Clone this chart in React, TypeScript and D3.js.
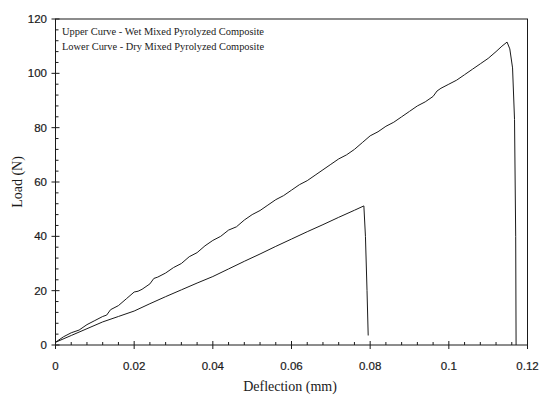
import React from "react";
import * as d3 from "d3";

const xTicks = [0, 0.02, 0.04, 0.06, 0.08, 0.1, 0.12];
const xTickLabels = ["0", "0.02", "0.04", "0.06", "0.08", "0.1", "0.12"];
const yTicks = [0, 20, 40, 60, 80, 100, 120];
const yTickLabels = ["0", "20", "40", "60", "80", "100", "120"];
const xMinor = [0.004, 0.008, 0.012, 0.016];
const yMinor = [4, 8, 12, 16];

const legendLines = [
  "Upper Curve - Wet Mixed Pyrolyzed Composite",
  "Lower Curve - Dry Mixed Pyrolyzed Composite",
];

// Upper curve - wet mixed (deflection mm, load N)
const upperDefl = [
  0, 0.002, 0.004, 0.006, 0.008, 0.01, 0.012, 0.013, 0.014, 0.016, 0.018, 0.02, 0.021, 0.022,
  0.024, 0.025, 0.026, 0.028, 0.03, 0.032, 0.034, 0.036, 0.038, 0.04, 0.042, 0.044, 0.046, 0.048,
  0.05, 0.052, 0.054, 0.056, 0.058, 0.06, 0.062, 0.064, 0.066, 0.068, 0.07, 0.072, 0.074, 0.076,
  0.078, 0.08, 0.082, 0.084, 0.086, 0.088, 0.09, 0.092, 0.094, 0.096, 0.097, 0.098, 0.1, 0.102,
  0.104, 0.106, 0.108, 0.11, 0.112, 0.1135, 0.1148, 0.1155, 0.1162, 0.1167, 0.117, 0.1171,
];
const upperLoad = [
  1, 3, 4.5, 5.5, 7.5, 9, 10.5, 11, 13, 14.5, 17, 19.5, 19.8, 20.5, 22.5, 24.5, 25, 26.5, 28.5,
  30, 32.5, 34, 36.5, 38.5, 40, 42.3, 43.5, 46, 48, 49.5, 51.5, 53.5, 55, 57, 59, 60.5, 62.5,
  64.5, 66.5, 68.5, 70, 72, 74.5, 77, 78.5, 80.5, 82, 84, 86, 88, 89.5, 91.5, 93.5, 94.5, 96,
  97.5, 99.5, 101.5, 103.5, 105.5, 108, 110, 111.5, 109, 102, 83, 40, 0,
];

// Lower curve - dry mixed
const lowerDefl = [
  0, 0.004, 0.008, 0.012, 0.016, 0.02, 0.024, 0.028, 0.032, 0.036, 0.04, 0.044, 0.048, 0.052,
  0.056, 0.06, 0.064, 0.068, 0.072, 0.076, 0.0784, 0.0788, 0.0792, 0.0795,
];
const lowerLoad = [
  1, 3.5, 6, 8.5, 10.5, 12.5, 15.2, 17.8, 20.3, 22.8, 25.2, 28, 30.8, 33.5, 36.3, 39, 41.7,
  44.3, 47, 49.6, 51.2, 40, 20, 3.5,
];

const W = 542;
const H = 398;
const L = 55.5;
const R = 527.5;
const T = 19;
const B = 345;

export default function App() {
  const x = d3.scaleLinear().domain([0, 0.12]).range([L, R]);
  const y = d3.scaleLinear().domain([0, 120]).range([B, T]);
  const line = d3
    .line<[number, number]>()
    .x((d) => x(d[0]))
    .y((d) => y(d[1]));
  const upper = upperDefl.map((d, i) => [d, upperLoad[i]] as [number, number]);
  const lower = lowerDefl.map((d, i) => [d, lowerLoad[i]] as [number, number]);

  const xMinorAll: number[] = [];
  xTicks.slice(0, -1).forEach((t) => xMinor.forEach((m) => xMinorAll.push(t + m)));
  const yMinorAll: number[] = [];
  yTicks.slice(0, -1).forEach((t) => yMinor.forEach((m) => yMinorAll.push(t + m)));

  const ink = "#1a1a1a";
  return (
    <>
      <style>{`body{margin:0}`}</style>
      <svg width={W} height={H} style={{ display: "block", background: "#fff" }}>
        <rect x={L} y={T} width={R - L} height={B - T} fill="none" stroke={ink} strokeWidth={1} />
        {xTicks.map((t, i) => (
          <g key={"xt" + i}>
            <line x1={x(t)} x2={x(t)} y1={B - 4} y2={B + 4} stroke={ink} />
            <text
              x={x(t)}
              y={370}
              textAnchor="middle"
              fontFamily="Liberation Sans, Arial, sans-serif"
              fontSize={11.5}
              fill={ink}
              stroke={ink}
              strokeWidth={0.2}
            >
              {xTickLabels[i]}
            </text>
          </g>
        ))}
        {xMinorAll.map((t, i) => (
          <line key={"xm" + i} x1={x(t)} x2={x(t)} y1={B - 3} y2={B} stroke={ink} />
        ))}
        {yTicks.map((t, i) => (
          <g key={"yt" + i}>
            <line x1={L - 4} x2={L + 4} y1={y(t)} y2={y(t)} stroke={ink} />
            <text
              x={47}
              y={y(t) + 4}
              textAnchor="end"
              fontFamily="Liberation Sans, Arial, sans-serif"
              fontSize={11.5}
              fill={ink}
              stroke={ink}
              strokeWidth={0.2}
            >
              {yTickLabels[i]}
            </text>
          </g>
        ))}
        {yMinorAll.map((t, i) => (
          <line key={"ym" + i} x1={L} x2={L + 3} y1={y(t)} y2={y(t)} stroke={ink} />
        ))}
        <path d={line(upper) || ""} fill="none" stroke={ink} strokeWidth={1} />
        <path d={line(lower) || ""} fill="none" stroke={ink} strokeWidth={1} />
        {legendLines.map((s, i) => (
          <text
            key={"lg" + i}
            x={62}
            y={35 + i * 14.5}
            fontFamily="Liberation Serif, Times New Roman, serif"
            fontSize={11}
            textLength={202}
            lengthAdjust="spacingAndGlyphs"
            fill={ink}
          >
            {s}
          </text>
        ))}
        <text
          transform={`translate(22,182) rotate(-90)`}
          textAnchor="middle"
          fontFamily="Liberation Serif, Times New Roman, serif"
          fontSize={14}
          fill={ink}
        >
          Load (N)
        </text>
        <text
          x={290}
          y={391}
          textAnchor="middle"
          fontFamily="Liberation Serif, Times New Roman, serif"
          fontSize={14}
          fill={ink}
        >
          Deflection (mm)
        </text>
      </svg>
    </>
  );
}
